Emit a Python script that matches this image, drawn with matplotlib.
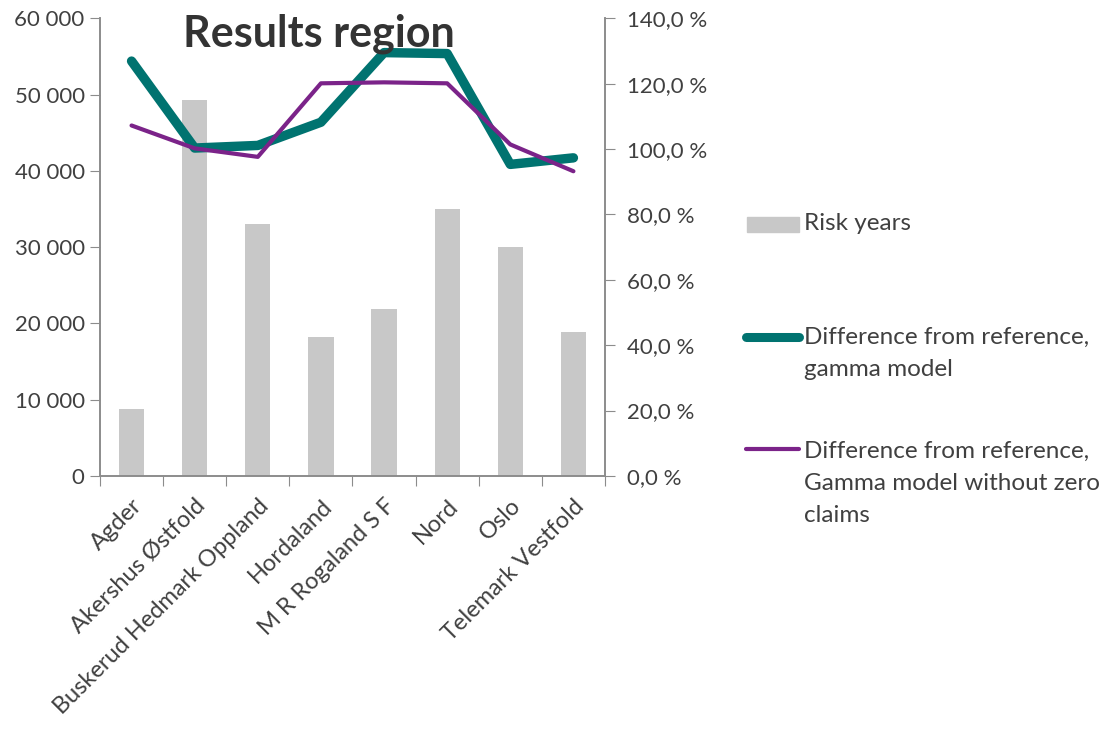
import matplotlib
matplotlib.use("Agg")
import matplotlib.pyplot as plt
from matplotlib.patches import Rectangle
from matplotlib.lines import Line2D
from matplotlib.ticker import FuncFormatter, MultipleLocator
import numpy as np

plt.rcParams['font.family'] = ['Lato', 'DejaVu Sans']

regions = ["Agder", "Akershus Østfold", "Buskerud Hedmark Oppland", "Hordaland",
           "M R Rogaland S F", "Nord", "Oslo", "Telemark Vestfold"]
risk_years = [8750, 49300, 33050, 18200, 21900, 35000, 30000, 18900]
diff_gamma = [126.9, 100.3, 101.1, 108.2, 129.5, 129.2, 95.3, 97.3]
diff_gamma_nozero = [107.2, 100.2, 97.6, 120.1, 120.4, 120.1, 101.4, 93.2]

label_risk = "Risk years"
label_gamma = "Difference from reference,\ngamma model"
label_nozero = "Difference from reference,\nGamma model without zero\nclaims"

BAR = "#C8C8C8"
TEAL = "#007370"
PURPLE = "#7B2389"
TXT = "#404040"
SPINE = "#8C8C8C"
FS_NUM = 16
FS_CAT = 17
FS_LEG = 17.5

fig = plt.figure(figsize=(11.16, 7.31), dpi=100)
ax = fig.add_axes([0.0896, 0.349, 0.4525, 0.626])
ax2 = ax.twinx()

x = np.arange(len(regions))
ax.bar(x, risk_years, width=0.4, color=BAR, zorder=1)
ax2.plot(x, diff_gamma, color=TEAL, lw=6.8, solid_capstyle='round', solid_joinstyle='round', zorder=3)
ax2.plot(x, diff_gamma_nozero, color=PURPLE, lw=3, solid_capstyle='round', solid_joinstyle='round', zorder=4)

ax.set_xlim(-0.5, len(regions) - 0.5)
ax.set_ylim(0, 60000)
ax2.set_ylim(0, 140)
ax.yaxis.set_major_locator(MultipleLocator(10000))
ax2.yaxis.set_major_locator(MultipleLocator(20))
ax.yaxis.set_major_formatter(FuncFormatter(lambda v, p: f"{int(v):,}".replace(",", " ")))
ax2.yaxis.set_major_formatter(FuncFormatter(lambda v, p: f"{v:.1f}".replace(".", ",") + " %"))

ax.set_xticks(np.arange(len(regions) + 1) - 0.5, minor=False)
ax.set_xticklabels([])
ax.set_xticks(x, minor=True)
ax.set_xticklabels(regions, minor=True, rotation=45, ha='right', rotation_mode='anchor',
                   fontsize=FS_CAT, color=TXT)
ax.tick_params(axis='x', which='minor', length=0, pad=14)
ax.tick_params(axis='x', which='major', length=7, color=SPINE, direction='out')
ax.tick_params(axis='y', length=7, color=SPINE, labelsize=FS_NUM, labelcolor=TXT, pad=4)
ax2.tick_params(axis='y', length=7, color=SPINE, labelsize=FS_NUM, labelcolor=TXT, pad=9)

for a in (ax, ax2):
    for s in a.spines.values():
        s.set_color(SPINE)
        s.set_linewidth(1.2)
    a.spines['top'].set_visible(False)

ax.set_zorder(ax2.get_zorder() - 1)
ax2.patch.set_visible(False)

W, H = 1116, 731
def fx(px):
    return px / W
def fy(py):
    return 1 - py / H

fig.text(fx(319), fy(47), "Results region", fontsize=31, fontweight='bold', color="#333333",
         ha='center', va='baseline')

# legend drawn to the right of the plot
fig.add_artist(Rectangle((fx(747), fy(232)), fx(799) - fx(747), fy(217) - fy(232),
                         transform=fig.transFigure, color=BAR))
fig.text(fx(804), fy(224), label_risk, fontsize=FS_LEG, color=TXT, va='center', ha='left')

fig.add_artist(Line2D([fx(746), fx(799)], [fy(337), fy(337)], transform=fig.transFigure,
                      color=TEAL, lw=6.5, solid_capstyle='round'))
fig.text(fx(804), fy(327), label_gamma, fontsize=FS_LEG, color=TXT, va='top', ha='left',
         linespacing=1.65)

fig.add_artist(Line2D([fx(746), fx(799)], [fy(449), fy(449)], transform=fig.transFigure,
                      color=PURPLE, lw=3, solid_capstyle='round'))
fig.text(fx(804), fy(441), label_nozero, fontsize=FS_LEG, color=TXT, va='top', ha='left',
         linespacing=1.65)

fig.savefig("out.png", dpi=100)
